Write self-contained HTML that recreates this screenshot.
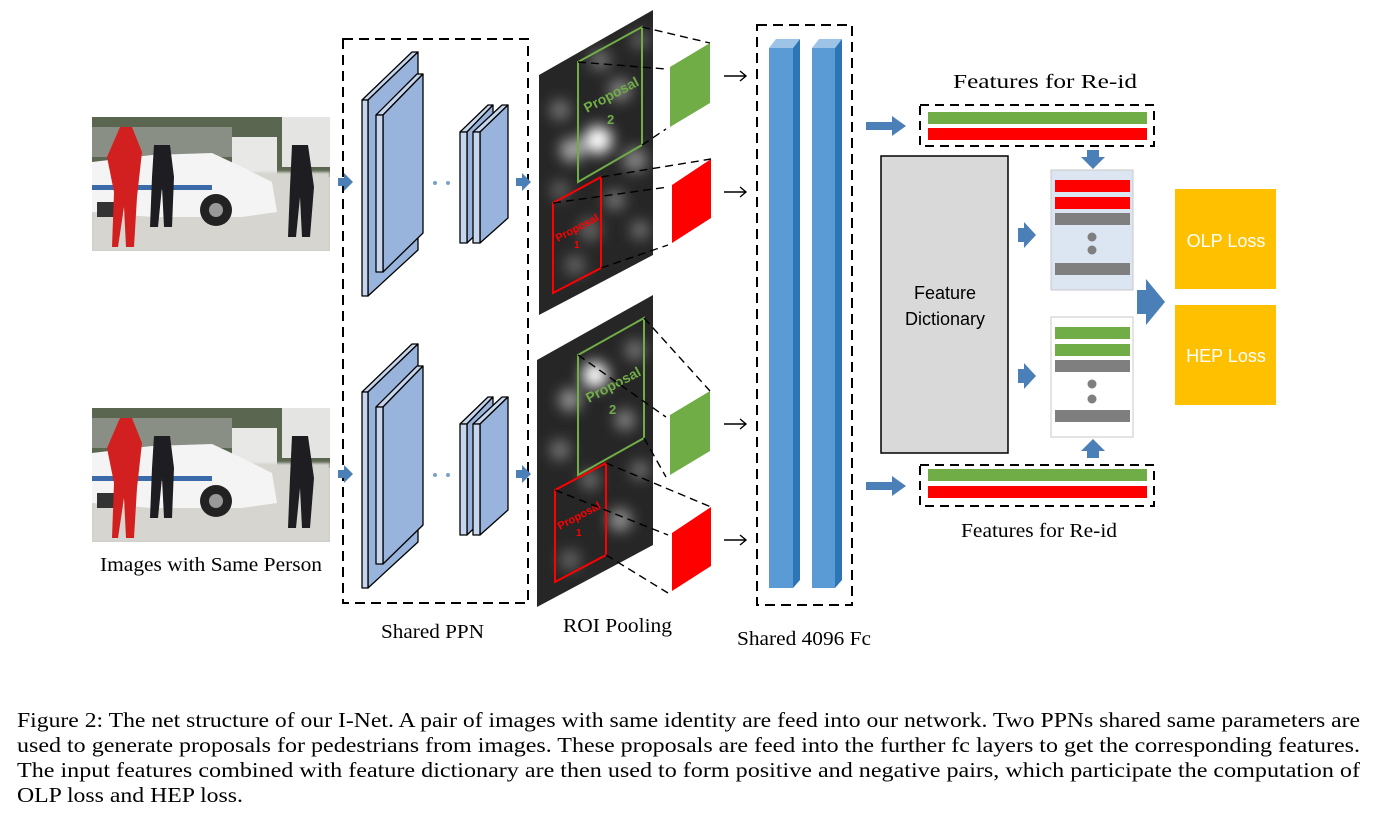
<!DOCTYPE html>
<html><head><meta charset="utf-8"><style>
html,body{margin:0;padding:0;background:#fff;}
svg{display:block;}
text{font-family:"Liberation Serif",serif;}
.sans{font-family:"Liberation Sans",sans-serif;}
</style></head><body>
<svg width="1378" height="830" viewBox="0 0 1378 830" xmlns="http://www.w3.org/2000/svg">
<defs>
<filter id="bl" x="-20%" y="-20%" width="140%" height="140%"><feGaussianBlur stdDeviation="7"/></filter>
<filter id="bl2"><feGaussianBlur stdDeviation="1.2"/></filter>
<clipPath id="hm1"><polygon points="539,75 653,10 653,255 539,315"/></clipPath>
<clipPath id="hm2"><polygon points="537,360 653,295 653,545 537,607"/></clipPath>
<clipPath id="ph"><rect x="0" y="0" width="238" height="134"/></clipPath>
<g id="photo">
 <g clip-path="url(#ph)">
  <rect width="238" height="134" fill="#c9c9c4"/>
  <rect width="238" height="60" fill="#5b6650"/>
  <rect x="0" y="10" width="140" height="30" fill="#8a8f86"/>
  <rect x="140" y="20" width="45" height="40" fill="#e8e8e6"/>
  <rect x="190" y="0" width="48" height="50" fill="#e4e4e2"/>
  <rect x="0" y="55" width="238" height="79" filter="url(#bl2)" fill="#d6d5d0"/>
  <path d="M0,45 L60,38 L120,36 L150,50 L180,65 L185,95 L150,100 L60,100 L0,95 Z" fill="#f4f4f4"/>
  <rect x="0" y="68" width="120" height="5" fill="#3a6aa8"/>
  <circle cx="124" cy="93" r="16" fill="#222"/>
  <circle cx="124" cy="93" r="7" fill="#999"/>
  <rect x="5" y="85" width="20" height="15" fill="#333"/>
  <path d="M28,10 L40,10 L50,35 L45,80 L42,130 L34,130 L32,90 L26,130 L20,130 L22,75 L15,40 Z" fill="#d22020"/>
  <path d="M62,28 L78,28 L82,60 L80,110 L72,110 L70,70 L66,110 L58,110 L60,60 Z" fill="#1e1e22"/>
  <path d="M200,28 L216,28 L222,70 L218,120 L210,120 L208,80 L204,120 L196,120 L198,70 Z" fill="#1e1e22"/>
 </g>
</g>
</defs>

<use href="#photo" x="92" y="117"/>
<use href="#photo" x="92" y="408"/>
<text x="100" y="571" font-size="20" textLength="222" lengthAdjust="spacingAndGlyphs">Images with Same Person</text>

<rect x="343" y="39" width="185" height="564" fill="none" stroke="#000" stroke-width="2" stroke-dasharray="10,6"/>
<path d="M338,178 h6 v-5 l9,9 l-9,9 v-5 h-6z" fill="#4a7fb8"/>
<path d="M338,470 h6 v-5 l9,9 l-9,9 v-5 h-6z" fill="#4a7fb8"/>
<path d="M516,178 h6 v-5 l9,9 l-9,9 v-5 h-6z" fill="#4a7fb8"/>
<path d="M516,470 h6 v-5 l9,9 l-9,9 v-5 h-6z" fill="#4a7fb8"/>

<g id="ppn" stroke="#000" stroke-width="1.3" stroke-linejoin="round">
 <polygon points="362,100 412,52 418,52 368,100" fill="#c6d6ee"/>
 <polygon points="368,100 418,52 418,250 368,296" fill="#98b4dc"/>
 <rect x="362" y="100" width="6" height="196" fill="#c6d6ee"/>
 <polygon points="376,115 417,74 423,74 383,115" fill="#c6d6ee"/>
 <polygon points="383,115 423,74 423,233 383,272" fill="#98b4dc"/>
 <rect x="376" y="115" width="7" height="157" fill="#c6d6ee"/>
 <polygon points="460,132 488,105 493,105 467,132" fill="#c6d6ee"/>
 <polygon points="467,132 493,105 493,218 467,243" fill="#98b4dc"/>
 <rect x="460" y="132" width="7" height="111" fill="#c6d6ee"/>
 <polygon points="473,132 502,105 508,105 480,132" fill="#c6d6ee"/>
 <polygon points="480,132 508,105 508,218 480,243" fill="#98b4dc"/>
 <rect x="473" y="132" width="7" height="111" fill="#c6d6ee"/>
</g>
<circle cx="435" cy="183" r="2" fill="#7aa0cc"/><circle cx="448" cy="183" r="2" fill="#7aa0cc"/>
<use href="#ppn" y="292"/>
<circle cx="435" cy="475" r="2" fill="#7aa0cc"/><circle cx="448" cy="475" r="2" fill="#7aa0cc"/>
<text x="381" y="638" font-size="20" textLength="103" lengthAdjust="spacingAndGlyphs">Shared PPN</text>

<g clip-path="url(#hm1)">
 <rect x="530" y="0" width="130" height="320" fill="#262626"/>
 <g filter="url(#bl)">
  <circle cx="598" cy="140" r="14" fill="#fff"/><circle cx="572" cy="150" r="12" fill="#aaa"/><circle cx="620" cy="90" r="11" fill="#888"/>
  <circle cx="560" cy="110" r="10" fill="#777"/><circle cx="590" cy="230" r="11" fill="#666"/><circle cx="635" cy="160" r="12" fill="#888"/>
  <circle cx="575" cy="265" r="10" fill="#666"/><circle cx="615" cy="200" r="10" fill="#777"/><circle cx="600" cy="60" r="10" fill="#777"/>
  <circle cx="560" cy="190" r="9" fill="#666"/><circle cx="640" cy="230" r="9" fill="#777"/><circle cx="640" cy="40" r="9" fill="#666"/>
 </g>
</g>
<g clip-path="url(#hm2)">
 <rect x="530" y="290" width="130" height="320" fill="#262626"/>
 <g filter="url(#bl)">
  <circle cx="595" cy="375" r="13" fill="#fff"/><circle cx="570" cy="400" r="11" fill="#999"/><circle cx="625" cy="420" r="10" fill="#888"/>
  <circle cx="560" cy="450" r="10" fill="#777"/><circle cx="620" cy="520" r="11" fill="#999"/><circle cx="590" cy="480" r="9" fill="#777"/>
  <circle cx="570" cy="560" r="10" fill="#666"/><circle cx="635" cy="350" r="10" fill="#777"/><circle cx="600" cy="590" r="9" fill="#555"/>
  <circle cx="640" cy="470" r="9" fill="#777"/>
 </g>
</g>
<polygon points="578,62 642,27 642,145 578,182" fill="none" stroke="#70ad47" stroke-width="2"/>
<text x="0" y="0" font-size="14" font-weight="bold" fill="#70ad47" class="sans" transform="translate(587,113) rotate(-28)">Proposal</text>
<text x="607" y="124" font-size="13" font-weight="bold" fill="#70ad47" class="sans">2</text>
<polygon points="553,203 601,177 601,268 553,293" fill="none" stroke="#f00" stroke-width="2"/>
<text x="0" y="0" font-size="11" font-weight="bold" fill="#f00" class="sans" transform="translate(558,242) rotate(-28)">Proposal</text>
<text x="574" y="248" font-size="10" font-weight="bold" fill="#f00" class="sans">1</text>
<polygon points="578,355 644,318 644,438 578,475" fill="none" stroke="#70ad47" stroke-width="2"/>
<text x="0" y="0" font-size="14" font-weight="bold" fill="#70ad47" class="sans" transform="translate(589,403) rotate(-28)">Proposal</text>
<text x="609" y="414" font-size="13" font-weight="bold" fill="#70ad47" class="sans">2</text>
<polygon points="555,490 606,463 606,555 555,582" fill="none" stroke="#f00" stroke-width="2"/>
<text x="0" y="0" font-size="11" font-weight="bold" fill="#f00" class="sans" transform="translate(560,530) rotate(-28)">Proposal</text>
<text x="576" y="536" font-size="10" font-weight="bold" fill="#f00" class="sans">1</text>

<polygon points="670,67 710,43 710,103 670,127" fill="#70ad47"/>
<polygon points="672,185 711,159 711,218 672,243" fill="#f00"/>
<polygon points="670,415 710,391 710,451 670,475" fill="#70ad47"/>
<polygon points="672,533 711,507 711,566 672,591" fill="#f00"/>
<g stroke="#000" stroke-width="1.4" stroke-dasharray="8,5" fill="none">
 <line x1="642" y1="27" x2="710" y2="43"/><line x1="578" y1="62" x2="666" y2="69"/>
 <line x1="642" y1="145" x2="666" y2="129"/>
 <line x1="601" y1="177" x2="711" y2="159"/><line x1="553" y1="203" x2="668" y2="187"/>
 <line x1="601" y1="268" x2="668" y2="245"/>
 <line x1="644" y1="318" x2="710" y2="391"/><line x1="578" y1="355" x2="666" y2="417"/>
 <line x1="644" y1="438" x2="666" y2="477"/>
 <line x1="606" y1="463" x2="711" y2="507"/><line x1="555" y1="490" x2="668" y2="535"/>
 <line x1="606" y1="555" x2="668" y2="593"/>
</g>
<g stroke="#000" stroke-width="1.4" fill="none">
 <path d="M724,76 h22 M740,71 l6,5 l-6,5"/>
 <path d="M724,192 h22 M740,187 l6,5 l-6,5"/>
 <path d="M724,424 h22 M740,419 l6,5 l-6,5"/>
 <path d="M724,540 h22 M740,535 l6,5 l-6,5"/>
</g>
<text x="563" y="632" font-size="20" textLength="109" lengthAdjust="spacingAndGlyphs">ROI Pooling</text>

<rect x="757" y="25" width="95" height="580" fill="none" stroke="#000" stroke-width="2" stroke-dasharray="10,6"/>
<g>
 <polygon points="769,48 776,39 800,39 793,48" fill="#9dc3e6"/>
 <polygon points="793,48 800,39 800,580 793,588" fill="#2e75b6"/>
 <rect x="769" y="48" width="24" height="540" fill="#5b9bd5"/>
 <polygon points="812,48 819,39 842,39 835,48" fill="#9dc3e6"/>
 <polygon points="835,48 842,39 842,580 835,588" fill="#2e75b6"/>
 <rect x="812" y="48" width="23" height="540" fill="#5b9bd5"/>
</g>
<text x="737" y="645" font-size="20" textLength="134" lengthAdjust="spacingAndGlyphs">Shared 4096 Fc</text>

<path d="M866,122 h26 v-6 l14,10 l-14,10 v-6 h-26z" fill="#4a7fb8"/>
<path d="M866,482 h26 v-6 l14,10 l-14,10 v-6 h-26z" fill="#4a7fb8"/>

<text x="953" y="88" font-size="20" textLength="184" lengthAdjust="spacingAndGlyphs">Features for Re-id</text>
<rect x="920" y="105" width="234" height="41" fill="none" stroke="#000" stroke-width="2" stroke-dasharray="9,6"/>
<rect x="928" y="112" width="219" height="12" fill="#70ad47"/>
<rect x="928" y="128" width="219" height="12" fill="#f00"/>
<rect x="920" y="465" width="234" height="41" fill="none" stroke="#000" stroke-width="2" stroke-dasharray="9,6"/>
<rect x="928" y="469" width="219" height="12" fill="#70ad47"/>
<rect x="928" y="486" width="219" height="12" fill="#f00"/>
<text x="961" y="537" font-size="20" textLength="156" lengthAdjust="spacingAndGlyphs">Features for Re-id</text>

<rect x="881" y="156" width="127" height="297" fill="#d9d9d9" stroke="#000" stroke-width="1.5"/>
<text x="945" y="299" font-size="18" text-anchor="middle" class="sans">Feature</text>
<text x="945" y="325" font-size="18" text-anchor="middle" class="sans">Dictionary</text>

<path d="M1018,228 h6 v-6 l12,13 l-12,13 v-6 h-6z" fill="#4a7fb8"/>
<path d="M1018,369 h6 v-6 l12,13 l-12,13 v-6 h-6z" fill="#4a7fb8"/>
<path d="M1087,150 h12 v7 h6 l-12,12 l-12,-12 h6z" fill="#4a7fb8"/>
<path d="M1087,458 h12 v-7 h6 l-12,-12 l-12,12 h6z" fill="#4a7fb8"/>

<rect x="1051" y="170" width="82" height="120" fill="#dce6f2" stroke="#c8c8c8"/>
<rect x="1055" y="180" width="75" height="12" fill="#f00"/>
<rect x="1055" y="197" width="75" height="12" fill="#f00"/>
<rect x="1055" y="213" width="75" height="12" fill="#7f7f7f"/>
<circle cx="1092" cy="237" r="4.5" fill="#7f7f7f"/><circle cx="1092" cy="250" r="4.5" fill="#7f7f7f"/>
<rect x="1055" y="263" width="75" height="12" fill="#7f7f7f"/>

<rect x="1051" y="317" width="82" height="120" fill="#fff" stroke="#c8c8c8"/>
<rect x="1055" y="327" width="75" height="12" fill="#70ad47"/>
<rect x="1055" y="344" width="75" height="12" fill="#70ad47"/>
<rect x="1055" y="360" width="75" height="12" fill="#7f7f7f"/>
<circle cx="1092" cy="384" r="4.5" fill="#7f7f7f"/><circle cx="1092" cy="399" r="4.5" fill="#7f7f7f"/>
<rect x="1055" y="410" width="75" height="12" fill="#7f7f7f"/>

<path d="M1137,290 h9 v-11 l19,23 l-19,23 v-11 h-9z" fill="#4a7fb8"/>

<rect x="1175" y="189" width="101" height="100" fill="#ffc000"/>
<text x="1226" y="247" font-size="18" text-anchor="middle" fill="#fff" class="sans">OLP Loss</text>
<rect x="1175" y="305" width="101" height="100" fill="#ffc000"/>
<text x="1226" y="362" font-size="18" text-anchor="middle" fill="#fff" class="sans">HEP Loss</text>

<g font-size="21">
<text x="17" y="727" textLength="1343" lengthAdjust="spacingAndGlyphs">Figure 2: The net structure of our I-Net. A pair of images with same identity are feed into our network. Two PPNs shared same parameters are</text>
<text x="17" y="752" textLength="1343" lengthAdjust="spacingAndGlyphs">used to generate proposals for pedestrians from images. These proposals are feed into the further fc layers to get the corresponding features.</text>
<text x="17" y="777" textLength="1343" lengthAdjust="spacingAndGlyphs">The input features combined with feature dictionary are then used to form positive and negative pairs, which participate the computation of</text>
<text x="17" y="802" textLength="226" lengthAdjust="spacingAndGlyphs">OLP loss and HEP loss.</text>
</g>
</svg>
</body></html>
